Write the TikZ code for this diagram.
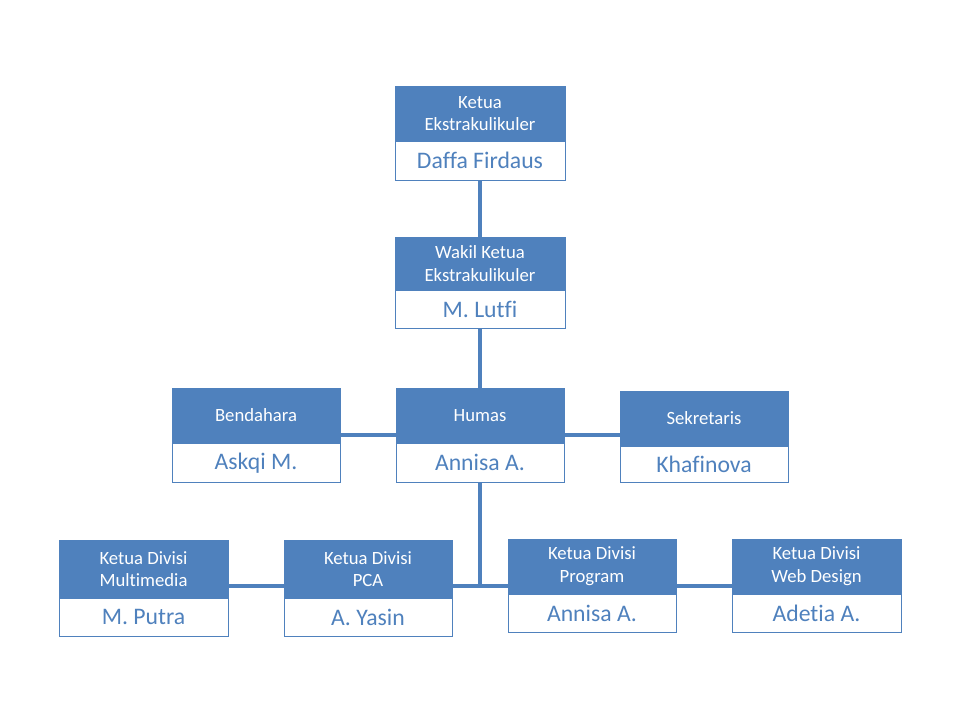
\documentclass[tikz,border=0pt]{standalone}
\usepackage{fontspec}
\setmainfont{Carlito}[Ligatures=NoCommon]
\usetikzlibrary{positioning,backgrounds}
\definecolor{biru}{HTML}{4F81BD}

\begin{document}
\begin{tikzpicture}[x=1pt, y=-1pt,
    jabatan/.style={rectangle, draw=biru, fill=biru, line width=0.8pt, minimum width=168pt, minimum height=54pt, inner sep=0pt, align=center, text=white, font=\fontsize{18.7}{22.5}\selectfont, anchor=north},
    nama/.style={rectangle, draw=biru, fill=white, line width=0.8pt, minimum width=168pt, minimum height=38pt, inner sep=0pt, align=center, text=biru, font=\fontsize{23.7}{28}\selectfont},
    garis/.style={draw=biru, line width=3.5pt}
]
    \useasboundingbox (0,0) rectangle (960,720);

    % pimpinan
    \node[jabatan, minimum width=170pt] (ketua) at (480,86) {Ketua\\Ekstrakulikuler};
    \node[nama, minimum width=170pt, minimum height=39pt, below=0pt of ketua] (ketua-nama) {Daffa Firdaus};

    \node[jabatan, minimum width=170pt, minimum height=52pt] (wakil) at (480,237) {Wakil Ketua\\Ekstrakulikuler};
    \node[nama, minimum width=170pt, below=0pt of wakil] (wakil-nama) {M. Lutfi};

    % staf inti
    \node[jabatan] (humas) at (480,388) {Humas};
    \node[nama, minimum height=39pt, below=0pt of humas] (humas-nama) {Annisa A.};

    \node[jabatan] (bendahara) at (256,388) {Bendahara};
    \node[nama, minimum height=39pt, below=0pt of bendahara] (bendahara-nama) {Askqi M.};

    \node[jabatan] (sekretaris) at (704,391) {Sekretaris};
    \node[nama, minimum height=36pt, below=0pt of sekretaris] (sekretaris-nama) {Khafinova};

    % divisi
    \node[jabatan, minimum width=169pt, minimum height=57pt] (multimedia) at (143.5,540) {Ketua Divisi\\Multimedia};
    \node[nama, minimum width=169pt, below=0pt of multimedia] (multimedia-nama) {M. Putra};

    \node[jabatan, minimum height=57pt] (pca) at (368,540) {Ketua Divisi\\PCA};
    \node[nama, below=0pt of pca] (pca-nama) {A. Yasin};

    \node[jabatan] (program) at (592,539) {Ketua Divisi\\Program};
    \node[nama, below=0pt of program] (program-nama) {Annisa A.};

    \node[jabatan, minimum width=169pt] (webdesign) at (816.5,539) {Ketua Divisi\\Web Design};
    \node[nama, minimum width=169pt, below=0pt of webdesign] (webdesign-nama) {Adetia A.};

    % garis penghubung
    \coordinate (staf) at (480,435);
    \coordinate (divisi) at (480,586);
    \begin{pgfonlayer}{background}
        \draw[garis] (ketua-nama.south) -- (wakil.north);
        \draw[garis] (wakil-nama.south) -- (humas.north);
        \draw[garis] (staf -| bendahara.center) -- (staf -| sekretaris.center);
        \draw[garis] (humas-nama.south) -- (divisi);
        \draw[garis] (divisi -| multimedia.center) -- (divisi -| webdesign.center);
    \end{pgfonlayer}
\end{tikzpicture}
\end{document}
